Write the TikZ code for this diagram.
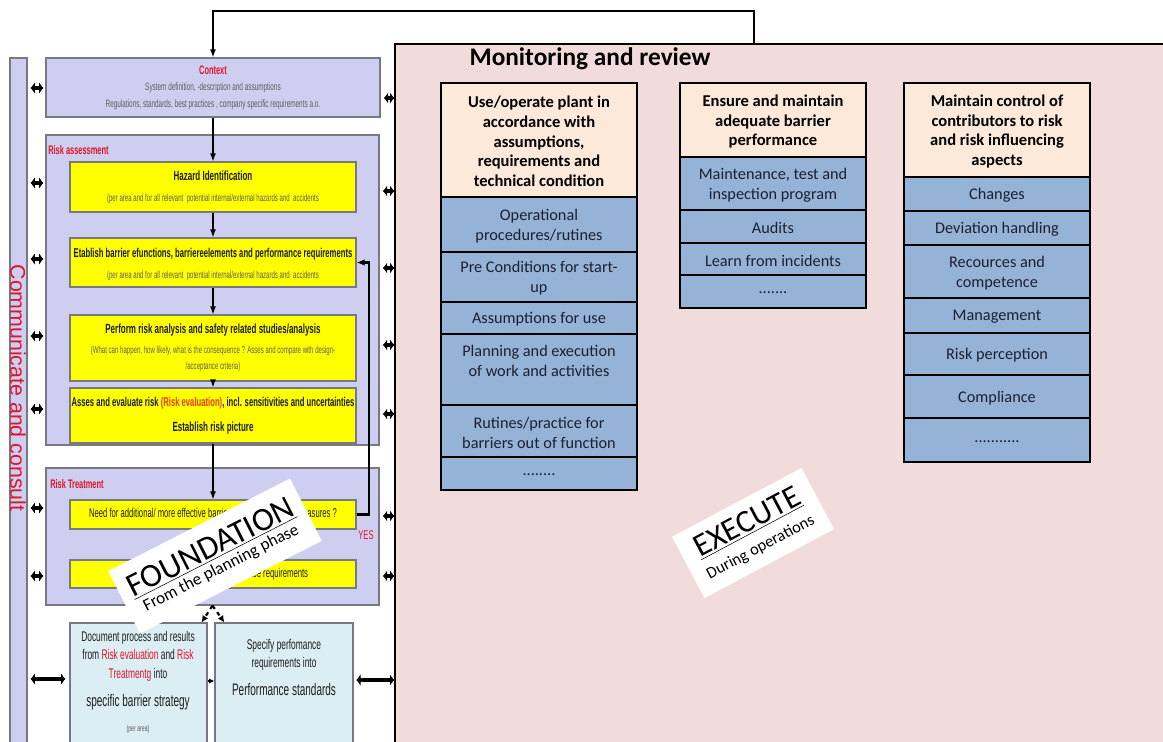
\documentclass[tikz,border=0pt]{standalone}
\usepackage{fontspec}
\setmainfont{Carlito}
\newfontfamily\nar[FakeStretch=0.6]{Liberation Sans}
\newfontfamily\ari{Liberation Sans}
\usetikzlibrary{arrows.meta,fit,calc}
\newcommand\fs[2]{\fontsize{#1pt}{#2pt}\selectfont}
% box with its text as a separate node: style, name, corner, corner, text
\newcommand\bx[5]{%
  \node[#1,fit={(#3)(#4)}] (#2) {};
  \node[#1txt] (#2t) at ($(#2.center)+(0,1.5)$) {#5};}
\definecolor{lav}{RGB}{206,206,240}
\definecolor{boxgrey}{RGB}{120,120,130}
\definecolor{yel}{RGB}{255,255,0}
\definecolor{cya}{RGB}{218,238,243}
\definecolor{pinkbg}{RGB}{242,220,219}
\definecolor{peach}{RGB}{253,233,217}
\definecolor{bluec}{RGB}{149,179,215}
\definecolor{redc}{RGB}{225,20,40}
\definecolor{redo}{RGB}{235,60,20}
\definecolor{greyt}{RGB}{95,95,95}
\definecolor{darkt}{RGB}{30,30,30}
\definecolor{celltext}{RGB}{30,32,50}
\begin{document}
\begin{tikzpicture}[x=0.75pt,y=-0.75pt,
  box/.style={draw=boxgrey,line width=0.9pt,inner sep=0pt},
  lavbox/.style={box,fill=lav},
  ybox/.style={box,fill=yel},
  cbox/.style={box,fill=cya},
  hdr/.style={draw=black,line width=1.1pt,fill=peach,inner sep=0pt},
  hdrtxt/.style={inner sep=0pt,align=center,font=\bfseries\fs{12.4}{14.8},text=black},
  cell/.style={draw=black,line width=1.1pt,fill=bluec,inner sep=0pt},
  celltxt/.style={inner sep=0pt,align=center,font=\fs{12.2}{15},text=celltext},
  ttl/.style={inner sep=0pt,font=\nar\bfseries\fs{9.6}{11},text=darkt},
  sub/.style={inner sep=0pt,font=\nar\fs{7.6}{12},text=greyt,align=center},
  redlbl/.style={inner sep=0pt,font=\nar\bfseries\fs{9.3}{10},text=redc},
  dbl/.style={line width=3.2pt,{Latex[length=3.2pt,width=9pt]}-{Latex[length=3.2pt,width=9pt]}},
  flow/.style={line width=1pt,-{Latex[length=6pt,width=4.5pt]}},
  fbk/.style={line width=1.6pt,-{Latex[length=6pt,width=5pt]}},
  dsh/.style={line width=1.6pt,dashed,-{Latex[length=5pt,width=5pt]}},
  card/.style={fill=white,inner sep=0pt,align=center,text=black}
]
\useasboundingbox (0,0) rectangle (1163,742);
\clip (0,0) rectangle (1163,742);

% ---------- monitoring panel ----------
\node[fit={(395,44)(1180,760)},draw=black,line width=1.1pt,fill=pinkbg,inner sep=0pt] (mon) {};
\node[font=\bfseries\fs{19}{22}] (monT) at (590,59) {Monitoring and review};

% column 1
\bx{hdr}{h1}{441,83}{637,197}{Use/operate plant in\\accordance with\\assumptions,\\requirements and\\technical condition}
\bx{cell}{c11}{441,197}{637,252}{Operational\\procedures/rutines}
\bx{cell}{c12}{441,252}{637,302}{Pre Conditions for start-\\up}
\bx{cell}{c13}{441,302}{637,334}{Assumptions for use}
\node[cell,fit={(441,334)(637,405)}] (c14) {};
\node[celltxt] (c14t) at ($(c14.center)+(0,-9)$) {Planning and execution\\of work and activities};
\bx{cell}{c15}{441,405}{637,457}{Rutines/practice for\\barriers out of function}
\bx{cell}{c16}{441,457}{637,490}{........}

% column 2
\bx{hdr}{h2}{680,83}{866,157}{Ensure and maintain\\adequate barrier\\performance}
\bx{cell}{c21}{680,157}{866,210}{Maintenance, test and\\inspection program}
\bx{cell}{c22}{680,210}{866,243}{Audits}
\bx{cell}{c23}{680,243}{866,275}{Learn from incidents}
\bx{cell}{c24}{680,275}{866,308}{.......}

% column 3
\bx{hdr}{h3}{904,83}{1090,177}{Maintain control of\\contributors to risk\\and risk influencing\\aspects}
\bx{cell}{c31}{904,177}{1090,211}{Changes}
\bx{cell}{c32}{904,211}{1090,245}{Deviation handling}
\bx{cell}{c33}{904,245}{1090,298}{Recources and\\competence}
\bx{cell}{c34}{904,298}{1090,333}{Management}
\bx{cell}{c35}{904,333}{1090,375}{Risk perception}
\bx{cell}{c36}{904,375}{1090,418}{Compliance}
\bx{cell}{c37}{904,418}{1090,462}{...........}

% ---------- communicate and consult bar ----------
\node[lavbox,fit={(10,58)(27,760)}] (cbar) {};
\node[rotate=-90,text=redc,font=\ari\fs{16}{18},inner sep=0pt] (cbarT) at (18,388) {Communicate and consult};

% ---------- context ----------
\node[lavbox,fit={(46,58)(380,117)}] (context) {};
\node[redlbl] (ctxT) at (213,70) {Context};
\node[sub,font=\nar\fs{8}{9}] (ctx1) at (213,88) {System definition, -description and assumptions};
\node[sub,font=\nar\fs{8}{9}] (ctx2) at (213,105) {Regulations, standards, best practices , company specific requirements a.o.};

% ---------- risk assessment ----------
\node[lavbox,fit={(46,135)(379,445)}] (ra) {};
\node[redlbl,anchor=west] (raT) at (48,150) {Risk assessment};

\node[ybox,fit={(70,162)(356,212)}] (haz) {};
\node[ttl,font=\nar\bfseries\fs{10}{11}] (hazT) at (213,176) {Hazard Identification};
\node[sub] (hazS) at (213,199) {(per area and for all relevant\ \ potential internal/external hazards and\ \ accidents};

\node[ybox,fit={(70,238)(356,287)}] (est) {};
\node[ttl] (estT) at (213,254) {Etablish\ barrier efunctions, barriereelements and performance requirements};
\node[sub] (estS) at (213,276) {(per area and for all relevant\ \ potential internal/external hazards and\ \ accidents};

\node[ybox,fit={(70,315)(356,381)}] (perf) {};
\node[ttl,font=\nar\bfseries\fs{10}{11}] (perfT) at (213,330) {Perform risk analysis and safety related studies/analysis};
\node[sub] (perfS) at (213,359) {(What can happen, how likely, what is the consequence ? Asses and compare with design-\\/acceptance criteria)};

\node[ybox,fit={(70,388)(356,443)}] (ass) {};
\node[ttl] (assT) at (213,403) {Asses and evaluate risk {\color{redo}(Risk evaluation)}, incl. sensitivities and uncertainties};
\node[ttl,font=\nar\bfseries\fs{10}{11}] (assT2) at (213,428) {Establish risk picture};

% ---------- risk treatment ----------
\node[lavbox,fit={(46,468)(379,605)}] (rt) {};
\node[redlbl,anchor=west] (rtT) at (50,484) {Risk Treatment};
\node[ybox,fit={(70,500)(356,529)}] (need) {};
\node[ttl,font=\nar\fs{9.6}{11}] (needT) at (213,514) {Need for additional/ more effective barriers and risk reducing measures ?};
\node[ybox,fit={(70,560)(356,588)}] (estb) {};
\node[ttl,font=\nar\fs{9.6}{11}] (estbT) at (212,574) {Establish barrier strategy and performance requirements};
\node[redlbl,font=\nar\fs{9.5}{10}] (yes) at (366,535) {YES};

% ---------- documentation boxes ----------
\node[cbox,fit={(70,623)(207,760)}] (doc) {};
\node[inner sep=0pt,font=\nar\fs{10.5}{13.9},align=center,text=darkt] (docT) at (138,656) {Document process and results\\from {\color{redc}Risk evaluation} and {\color{redc}Risk}\\{\color{redc}Treatmentg} into};
\node[inner sep=0pt,font=\nar\fs{12.5}{14},text=darkt] (docT2) at (138,702) {specific barrier strategy};
\node[inner sep=0pt,font=\nar\fs{6.5}{7},text=greyt] (docT3) at (138,729) {(per area)};

\node[cbox,fit={(215,623)(353,760)}] (pst) {};
\node[inner sep=0pt,font=\nar\fs{10.5}{13.5},align=center,text=darkt] (pstT) at (284,655) {Specify perfomance\\requirements into};
\node[inner sep=0pt,font=\nar\fs{12.5}{14},text=darkt] (pstT2) at (284,690) {Performance standards};

% ---------- flow connectors ----------
\coordinate (topc) at (754,11);
\draw[flow] (mon.north -| topc) -- (topc) -| (context.north);
\draw[flow] (context.south) -- (haz.north);
\draw[flow] (haz.south) -- (est.north);
\draw[flow] (est.south) -- (perf.north);
\draw[flow] (perf.south) -- (ass.north);
\draw[flow] (ass.south) -- (need.north);
\coordinate (fbx) at (369,390);
\draw[fbk] (need.east) -| (fbx |- est.east) -- (est.east);
\draw[dsh] (rt.south) -- ($(doc.north east)+(-6,0)$);
\draw[dsh] (rt.south) -- ($(pst.north west)+(10,0)$);
\coordinate (mid) at (211,681);
\draw[line width=1pt,-{Latex[length=4pt,width=4pt]}] (doc.east |- mid) -- (pst.west |- mid);

% ---------- communication arrows ----------
\foreach \y/\n in {88/context,183/ra,259/ra,336/ra,409/ra,508/rt,576/rt}
  \draw[dbl,shorten <=2.2pt,shorten >=1.5pt] (cbar.east |- 0,\y) -- (\n.west |- 0,\y);
\draw[dbl,shorten <=2.2pt,shorten >=3pt] (cbar.east |- 0,679) -- (doc.west |- 0,679);
\foreach \y/\n in {98/context,191/ra,268/ra,345/ra,414/ra,516/rt,576/rt}
  \draw[dbl,shorten <=2.5pt] (\n.east |- 0,\y) -- (mon.west |- 0,\y);
\draw[dbl,shorten <=2pt] (pst.east |- 0,680) -- (mon.west |- 0,680);

% ---------- phase cards ----------
\node[card,rotate=27,minimum width=153pt,minimum height=52.5pt,font=\fs{12.8}{13.5}] (found) at (215,556)
  {{\fs{24.7}{26}\underline{FOUNDATION}}\\From the planning phase};
\node[card,rotate=28,minimum width=110pt,minimum height=52pt,font=\fs{12.3}{17.6}] (exec) at (753,533)
  {{\fs{24}{26}\underline{EXECUTE}}\\During operations};
\end{tikzpicture}
\end{document}
